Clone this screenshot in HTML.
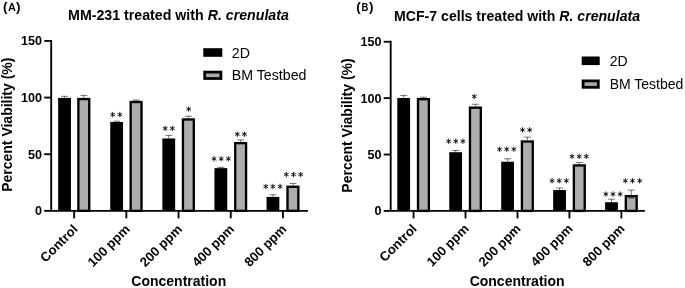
<!DOCTYPE html>
<html><head><meta charset="utf-8"><title>chart</title>
<style>
html,body{margin:0;padding:0;background:#fff;}
svg{display:block;will-change:transform;opacity:0.999}
text{font-family:"Liberation Sans",sans-serif;fill:#000}
.tk{font-size:12.6px;font-weight:bold}
.xt{font-size:13.1px;font-weight:bold}
.tt{font-weight:bold}
.al{font-size:14px;font-weight:bold}
.lg{font-weight:normal}
.pn{font-size:10.8px;font-weight:bold}
.pn .pp{font-size:13.5px;font-weight:bold}
</style></head><body>
<svg width="685" height="288" viewBox="0 0 685 288">
<rect width="685" height="288" fill="#fff"/>
<text y="10.8" class="pn"><tspan class="pp" x="2.9">(</tspan><tspan x="8.1">A</tspan><tspan class="pp" x="16.1">)</tspan></text>
<text y="10.8" class="pn"><tspan class="pp" x="356.2">(</tspan><tspan class="pp" x="368.9">)</tspan></text>
<text transform="translate(361.5 10.8) scale(0.88 1)" class="pn">B</text>
<rect x="58.15" y="97.89" width="12.8" height="112.96" fill="#000"/>
<path d="M64.55 97.89 V96.30 M61.05 96.30 H68.05" stroke="#000" stroke-width="0.55" fill="none"/>
<path d="M83.80 97.89 V95.40 M80.30 95.40 H87.30" stroke="#000" stroke-width="0.55" fill="none"/>
<rect x="78.38" y="99.06" width="10.85" height="111.79" fill="#adadad" stroke="#000" stroke-width="2.35"/>
<path d="M74.17 210.85 V218.35" stroke="#000" stroke-width="1.85"/>
<text transform="translate(78.47 230.05) rotate(-45)" text-anchor="end" class="xt">Control</text>
<rect x="110.25" y="122.02" width="12.8" height="88.83" fill="#000"/>
<path d="M116.65 122.02 V121.23 M113.15 121.23 H120.15" stroke="#000" stroke-width="0.55" fill="none"/>
<path d="M136.08 100.84 V100.04 M132.58 100.04 H139.58" stroke="#000" stroke-width="0.55" fill="none"/>
<rect x="130.66" y="102.01" width="10.85" height="108.84" fill="#adadad" stroke="#000" stroke-width="2.35"/>
<path d="M126.36 210.85 V218.35" stroke="#000" stroke-width="1.85"/>
<text transform="translate(130.66 230.05) rotate(-45)" text-anchor="end" class="xt">100 ppm</text>
<rect x="162.35" y="138.45" width="12.8" height="72.40" fill="#000"/>
<path d="M168.75 138.45 V135.39 M165.25 135.39 H172.25" stroke="#000" stroke-width="0.55" fill="none"/>
<path d="M188.36 118.28 V116.24 M184.86 116.24 H191.86" stroke="#000" stroke-width="0.55" fill="none"/>
<rect x="182.94" y="119.46" width="10.85" height="91.39" fill="#adadad" stroke="#000" stroke-width="2.35"/>
<path d="M178.56 210.85 V218.35" stroke="#000" stroke-width="1.85"/>
<text transform="translate(182.86 230.05) rotate(-45)" text-anchor="end" class="xt">200 ppm</text>
<rect x="214.45" y="168.14" width="12.8" height="42.71" fill="#000"/>
<path d="M220.85 168.14 V167.34 M217.35 167.34 H224.35" stroke="#000" stroke-width="0.55" fill="none"/>
<path d="M240.64 141.96 V139.92 M237.14 139.92 H244.14" stroke="#000" stroke-width="0.55" fill="none"/>
<rect x="235.22" y="143.14" width="10.85" height="67.71" fill="#adadad" stroke="#000" stroke-width="2.35"/>
<path d="M230.75 210.85 V218.35" stroke="#000" stroke-width="1.85"/>
<text transform="translate(235.05 230.05) rotate(-45)" text-anchor="end" class="xt">400 ppm</text>
<rect x="266.55" y="196.91" width="12.8" height="13.94" fill="#000"/>
<path d="M272.95 196.91 V194.76 M269.45 194.76 H276.45" stroke="#000" stroke-width="0.55" fill="none"/>
<path d="M292.92 185.58 V183.43 M289.42 183.43 H296.42" stroke="#000" stroke-width="0.55" fill="none"/>
<rect x="287.50" y="186.76" width="10.85" height="24.09" fill="#adadad" stroke="#000" stroke-width="2.35"/>
<path d="M282.94 210.85 V218.35" stroke="#000" stroke-width="1.85"/>
<text transform="translate(287.24 230.05) rotate(-45)" text-anchor="end" class="xt">800 ppm</text>

<path d="M51.2 39.98 V210.85 M50.28 210.85 H308" stroke="#000" stroke-width="1.85" fill="none"/>
<path d="M44.20 210.85 H51.2" stroke="#000" stroke-width="1.85"/>
<text x="42.10" y="215.25" text-anchor="end" class="tk">0</text>
<path d="M44.20 154.20 H51.2" stroke="#000" stroke-width="1.85"/>
<text x="42.10" y="158.60" text-anchor="end" class="tk">50</text>
<path d="M44.20 97.55 H51.2" stroke="#000" stroke-width="1.85"/>
<text x="42.10" y="101.95" text-anchor="end" class="tk">100</text>
<path d="M44.20 40.90 H51.2" stroke="#000" stroke-width="1.85"/>
<text x="42.10" y="45.30" text-anchor="end" class="tk">150</text>
<path d="M112.67 111.95L112.67 117.25M110.38 113.27L114.97 115.92M114.97 113.27L110.38 115.92M119.83 111.95L119.83 117.25M117.53 113.27L122.12 115.92M122.12 113.27L117.53 115.92" stroke="#000" stroke-width="0.88" fill="none"/>
<path d="M165.23 125.75L165.23 131.05M162.93 127.08L167.52 129.72M167.52 127.08L162.93 129.72M172.38 125.75L172.38 131.05M170.08 127.08L174.67 129.72M174.67 127.08L170.08 129.72" stroke="#000" stroke-width="0.88" fill="none"/>
<path d="M188.70 106.45L188.70 111.75M186.41 107.77L190.99 110.42M190.99 107.77L186.41 110.42" stroke="#000" stroke-width="0.88" fill="none"/>
<path d="M214.05 156.15L214.05 161.45M211.76 157.48L216.34 160.12M216.34 157.48L211.76 160.12M221.20 156.15L221.20 161.45M218.91 157.48L223.49 160.12M223.49 157.48L218.91 160.12M228.35 156.15L228.35 161.45M226.06 157.48L230.64 160.12M230.64 157.48L226.06 160.12" stroke="#000" stroke-width="0.88" fill="none"/>
<path d="M237.33 131.55L237.33 136.85M235.03 132.88L239.62 135.52M239.62 132.88L235.03 135.52M244.47 131.55L244.47 136.85M242.18 132.88L246.77 135.52M246.77 132.88L242.18 135.52" stroke="#000" stroke-width="0.88" fill="none"/>
<path d="M265.75 183.85L265.75 189.15M263.46 185.18L268.04 187.82M268.04 185.18L263.46 187.82M272.90 183.85L272.90 189.15M270.61 185.18L275.19 187.82M275.19 185.18L270.61 187.82M280.05 183.85L280.05 189.15M277.76 185.18L282.34 187.82M282.34 185.18L277.76 187.82" stroke="#000" stroke-width="0.88" fill="none"/>
<path d="M286.35 171.85L286.35 177.15M284.06 173.18L288.64 175.82M288.64 173.18L284.06 175.82M293.50 171.85L293.50 177.15M291.21 173.18L295.79 175.82M295.79 173.18L291.21 175.82M300.65 171.85L300.65 177.15M298.36 173.18L302.94 175.82M302.94 173.18L298.36 175.82" stroke="#000" stroke-width="0.88" fill="none"/>
<text x="68.1" y="19.7" class="tt" font-size="14.2">MM-231 treated with <tspan font-style="italic">R. crenulata</tspan></text>
<text transform="translate(11.9 124.7) rotate(-90)" text-anchor="middle" class="al">Percent Viability (%)</text>
<text x="178.75" y="286.2" text-anchor="middle" class="al">Concentration</text>
<rect x="203.3" y="48.2" width="19" height="8.6" fill="#000"/>
<rect x="204.70000000000002" y="72.10000000000001" width="16.2" height="6.4" fill="#aaa" stroke="#000" stroke-width="2.8"/>
<text x="231.8" y="57.800000000000004" class="lg" font-size="14.2">2D</text>
<text x="231.8" y="80.3" class="lg" font-size="14.2">BM Testbed</text>
<rect x="397.30" y="98.02" width="12.8" height="112.88" fill="#000"/>
<path d="M403.70 98.02 V95.42 M400.20 95.42 H407.20" stroke="#000" stroke-width="0.55" fill="none"/>
<path d="M423.45 98.02 V97.23 M419.95 97.23 H426.95" stroke="#000" stroke-width="0.55" fill="none"/>
<rect x="418.02" y="99.19" width="10.85" height="111.71" fill="#adadad" stroke="#000" stroke-width="2.35"/>
<path d="M413.57 210.9 V218.4" stroke="#000" stroke-width="1.85"/>
<text transform="translate(417.68 229.60) rotate(-45)" text-anchor="end" class="xt">Control</text>
<rect x="449.25" y="152.20" width="12.8" height="58.70" fill="#000"/>
<path d="M455.65 152.20 V150.51 M452.15 150.51 H459.15" stroke="#000" stroke-width="0.55" fill="none"/>
<path d="M475.40 106.47 V104.28 M471.90 104.28 H478.90" stroke="#000" stroke-width="0.55" fill="none"/>
<rect x="469.97" y="107.65" width="10.85" height="103.25" fill="#adadad" stroke="#000" stroke-width="2.35"/>
<path d="M465.52 210.9 V218.4" stroke="#000" stroke-width="1.85"/>
<text transform="translate(469.62 229.60) rotate(-45)" text-anchor="end" class="xt">100 ppm</text>
<rect x="501.20" y="161.73" width="12.8" height="49.17" fill="#000"/>
<path d="M507.60 161.73 V158.80 M504.10 158.80 H511.10" stroke="#000" stroke-width="0.55" fill="none"/>
<path d="M527.35 140.31 V137.15 M523.85 137.15 H530.85" stroke="#000" stroke-width="0.55" fill="none"/>
<rect x="521.92" y="141.48" width="10.85" height="69.42" fill="#adadad" stroke="#000" stroke-width="2.35"/>
<path d="M517.48 210.9 V218.4" stroke="#000" stroke-width="1.85"/>
<text transform="translate(521.58 229.60) rotate(-45)" text-anchor="end" class="xt">200 ppm</text>
<rect x="553.15" y="190.04" width="12.8" height="20.86" fill="#000"/>
<path d="M559.55 190.04 V188.01 M556.05 188.01 H563.05" stroke="#000" stroke-width="0.55" fill="none"/>
<path d="M579.30 164.21 V162.52 M575.80 162.52 H582.80" stroke="#000" stroke-width="0.55" fill="none"/>
<rect x="573.87" y="165.39" width="10.85" height="45.51" fill="#adadad" stroke="#000" stroke-width="2.35"/>
<path d="M569.42 210.9 V218.4" stroke="#000" stroke-width="1.85"/>
<text transform="translate(573.52 229.60) rotate(-45)" text-anchor="end" class="xt">400 ppm</text>
<rect x="605.10" y="202.22" width="12.8" height="8.68" fill="#000"/>
<path d="M611.50 202.22 V199.17 M608.00 199.17 H615.00" stroke="#000" stroke-width="0.55" fill="none"/>
<path d="M631.25 195.00 V190.15 M627.75 190.15 H634.75" stroke="#000" stroke-width="0.55" fill="none"/>
<rect x="625.82" y="196.17" width="10.85" height="14.73" fill="#adadad" stroke="#000" stroke-width="2.35"/>
<path d="M621.38 210.9 V218.4" stroke="#000" stroke-width="1.85"/>
<text transform="translate(625.48 229.60) rotate(-45)" text-anchor="end" class="xt">800 ppm</text>
<path d="M628.2 198 H634.2" stroke="#222" stroke-width="0.8"/>
<path d="M390.7 40.82 V210.9 M389.77 210.9 H644.9" stroke="#000" stroke-width="1.85" fill="none"/>
<path d="M383.70 210.90 H390.7" stroke="#000" stroke-width="1.85"/>
<text x="381.60" y="215.30" text-anchor="end" class="tk">0</text>
<path d="M383.70 154.52 H390.7" stroke="#000" stroke-width="1.85"/>
<text x="381.60" y="158.92" text-anchor="end" class="tk">50</text>
<path d="M383.70 98.13 H390.7" stroke="#000" stroke-width="1.85"/>
<text x="381.60" y="102.53" text-anchor="end" class="tk">100</text>
<path d="M383.70 41.75 H390.7" stroke="#000" stroke-width="1.85"/>
<text x="381.60" y="46.15" text-anchor="end" class="tk">150</text>
<path d="M448.65 138.60L448.65 143.90M446.36 139.93L450.94 142.57M450.94 139.93L446.36 142.57M455.80 138.60L455.80 143.90M453.51 139.93L458.09 142.57M458.09 139.93L453.51 142.57M462.95 138.60L462.95 143.90M460.66 139.93L465.24 142.57M465.24 139.93L460.66 142.57" stroke="#000" stroke-width="0.88" fill="none"/>
<path d="M474.30 93.85L474.30 99.15M472.01 95.17L476.59 97.83M476.59 95.17L472.01 97.83" stroke="#000" stroke-width="0.88" fill="none"/>
<path d="M499.55 146.60L499.55 151.90M497.26 147.93L501.84 150.57M501.84 147.93L497.26 150.57M506.70 146.60L506.70 151.90M504.41 147.93L508.99 150.57M508.99 147.93L504.41 150.57M513.85 146.60L513.85 151.90M511.56 147.93L516.14 150.57M516.14 147.93L511.56 150.57" stroke="#000" stroke-width="0.88" fill="none"/>
<path d="M522.52 127.25L522.52 132.55M520.23 128.58L524.82 131.22M524.82 128.58L520.23 131.22M529.68 127.25L529.68 132.55M527.38 128.58L531.97 131.22M531.97 128.58L527.38 131.22" stroke="#000" stroke-width="0.88" fill="none"/>
<path d="M552.05 178.10L552.05 183.40M549.76 179.43L554.34 182.07M554.34 179.43L549.76 182.07M559.20 178.10L559.20 183.40M556.91 179.43L561.49 182.07M561.49 179.43L556.91 182.07M566.35 178.10L566.35 183.40M564.06 179.43L568.64 182.07M568.64 179.43L564.06 182.07" stroke="#000" stroke-width="0.88" fill="none"/>
<path d="M572.05 153.75L572.05 159.05M569.76 155.08L574.34 157.72M574.34 155.08L569.76 157.72M579.20 153.75L579.20 159.05M576.91 155.08L581.49 157.72M581.49 155.08L576.91 157.72M586.35 153.75L586.35 159.05M584.06 155.08L588.64 157.72M588.64 155.08L584.06 157.72" stroke="#000" stroke-width="0.88" fill="none"/>
<path d="M605.85 191.45L605.85 196.75M603.56 192.78L608.14 195.42M608.14 192.78L603.56 195.42M613.00 191.45L613.00 196.75M610.71 192.78L615.29 195.42M615.29 192.78L610.71 195.42M620.15 191.45L620.15 196.75M617.86 192.78L622.44 195.42M622.44 192.78L617.86 195.42" stroke="#000" stroke-width="0.88" fill="none"/>
<path d="M625.35 178.15L625.35 183.45M623.06 179.48L627.64 182.12M627.64 179.48L623.06 182.12M632.50 178.15L632.50 183.45M630.21 179.48L634.79 182.12M634.79 179.48L630.21 182.12M639.65 178.15L639.65 183.45M637.36 179.48L641.94 182.12M641.94 179.48L637.36 182.12" stroke="#000" stroke-width="0.88" fill="none"/>
<text x="394.1" y="20.5" class="tt" font-size="14.1">MCF-7 cells treated with <tspan font-style="italic">R. crenulata</tspan></text>
<text transform="translate(351.8 125.5) rotate(-90)" text-anchor="middle" class="al">Percent Viability (%)</text>
<text x="517.1" y="285.9" text-anchor="middle" class="al">Concentration</text>
<rect x="581.7" y="56.5" width="18" height="8.6" fill="#000"/>
<rect x="583.1" y="80.9" width="15.2" height="6.4" fill="#aaa" stroke="#000" stroke-width="2.8"/>
<text x="609.7" y="66.1" class="lg" font-size="14.0">2D</text>
<text x="609.7" y="89.1" class="lg" font-size="14.0">BM Testbed</text>
</svg>
</body></html>
